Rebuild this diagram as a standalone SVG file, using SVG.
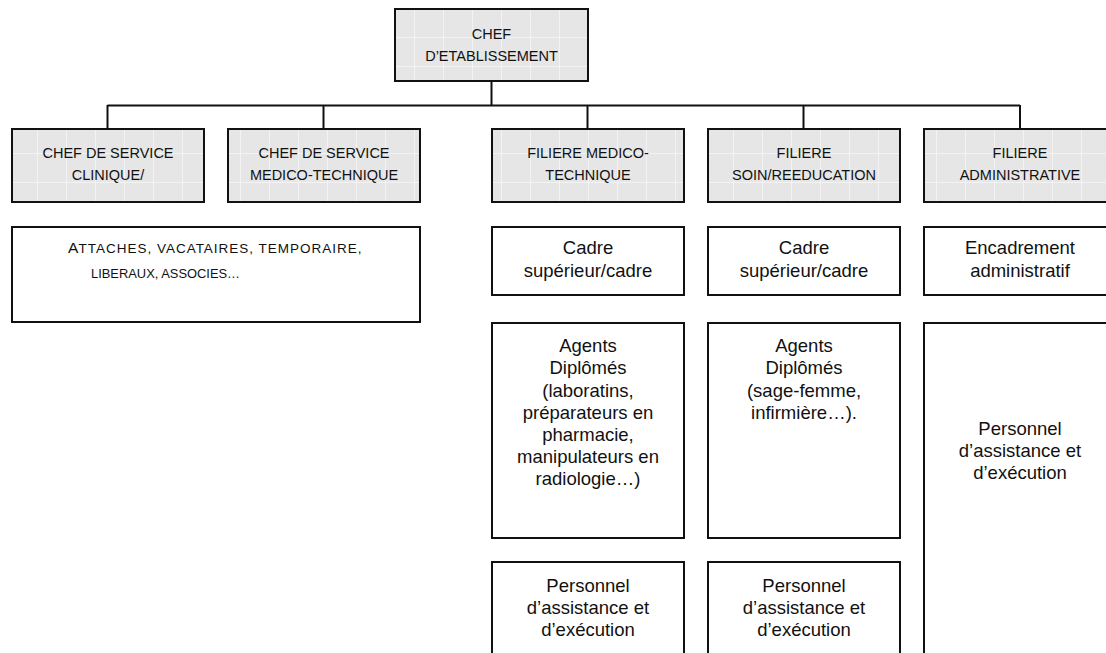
<svg xmlns="http://www.w3.org/2000/svg" width="1106" height="653" viewBox="0 0 1106 653">
<defs>
<pattern id="grid" width="29" height="29" patternUnits="userSpaceOnUse" x="8" y="8">
<rect width="29" height="29" fill="#e6e6e6"/>
<path d="M0 0.5H29M0.5 0V29" stroke="#f3f3f3" stroke-width="1" fill="none"/>
</pattern>
<style>
.box{fill:#ffffff;stroke:#111;stroke-width:2}
.hdr{fill:url(#grid);stroke:#111;stroke-width:2}
.ht{font-family:"Liberation Sans",Arial,sans-serif;font-size:14.5px;fill:#111;text-anchor:middle}
.bt{font-family:"Liberation Sans",Arial,sans-serif;font-size:18.5px;fill:#111;text-anchor:middle}
.sc{font-family:"Liberation Sans",Arial,sans-serif;fill:#111}
.conn{fill:none;stroke:#111;stroke-width:2}
</style>
</defs>
<rect width="1106" height="653" fill="#ffffff"/>
<g id="connectors">
<path class="conn" d="M491.5 81V105.5M107.5 105.5H1020M107.5 105V129M323.5 105V129M587.5 105V129M803.5 105V129M1020 105V129"/>
</g>
<g id="chef-etablissement">
<rect class="hdr" x="395" y="9" width="193" height="72"/>
<text class="ht" x="491.5" y="39">CHEF</text>
<text class="ht" x="491.5" y="61">D’ETABLISSEMENT</text>
</g>
<g id="chef-service-clinique">
<rect class="hdr" x="12" y="129" width="192" height="73"/>
<text class="ht" x="108" y="158">CHEF DE SERVICE</text>
<text class="ht" x="108" y="180">CLINIQUE/</text>
</g>
<g id="chef-service-medico">
<rect class="hdr" x="228" y="129" width="192" height="73"/>
<text class="ht" x="324" y="158">CHEF DE SERVICE</text>
<text class="ht" x="324" y="180">MEDICO-TECHNIQUE</text>
</g>
<g id="filiere-medico">
<rect class="hdr" x="492" y="129" width="192" height="73"/>
<text class="ht" x="588" y="158">FILIERE MEDICO-</text>
<text class="ht" x="588" y="180">TECHNIQUE</text>
</g>
<g id="filiere-soin">
<rect class="hdr" x="708" y="129" width="192" height="73"/>
<text class="ht" x="804" y="158">FILIERE</text>
<text class="ht" x="804" y="180">SOIN/REEDUCATION</text>
</g>
<g id="filiere-admin">
<rect class="hdr" x="924" y="129" width="192" height="73"/>
<text class="ht" x="1020" y="158">FILIERE</text>
<text class="ht" x="1020" y="180">ADMINISTRATIVE</text>
</g>
<g id="attaches">
<rect class="box" x="12" y="227" width="408" height="95"/>
<text class="sc" x="68" y="252.5" font-size="15.5">A</text>
<text class="sc" x="78.5" y="252.5" font-size="13.5" textLength="283" lengthAdjust="spacing">TTACHES, VACATAIRES, TEMPORAIRE,</text>
<text class="sc" x="91" y="278" font-size="13.5" textLength="149" lengthAdjust="spacingAndGlyphs">LIBERAUX, ASSOCIES…</text>
</g>
<g id="cadre-medico">
<rect class="box" x="492" y="227" width="192" height="68"/>
<text class="bt" x="588" y="254">Cadre</text>
<text class="bt" x="588" y="277">supérieur/cadre</text>
</g>
<g id="cadre-soin">
<rect class="box" x="708" y="227" width="192" height="68"/>
<text class="bt" x="804" y="254">Cadre</text>
<text class="bt" x="804" y="277">supérieur/cadre</text>
</g>
<g id="encadrement-admin">
<rect class="box" x="924" y="227" width="192" height="68"/>
<text class="bt" x="1020" y="254">Encadrement</text>
<text class="bt" x="1020" y="277">administratif</text>
</g>
<g id="agents-medico">
<rect class="box" x="492" y="323" width="192" height="215"/>
<text class="bt" x="588" y="352">Agents</text>
<text class="bt" x="588" y="374">Diplômés</text>
<text class="bt" x="588" y="396.5">(laboratins,</text>
<text class="bt" x="588" y="418.5">préparateurs en</text>
<text class="bt" x="588" y="441">pharmacie,</text>
<text class="bt" x="588" y="463">manipulateurs en</text>
<text class="bt" x="588" y="485">radiologie…)</text>
</g>
<g id="agents-soin">
<rect class="box" x="708" y="323" width="192" height="215"/>
<text class="bt" x="804" y="352">Agents</text>
<text class="bt" x="804" y="374">Diplômés</text>
<text class="bt" x="804" y="396.5">(sage-femme,</text>
<text class="bt" x="804" y="418.5">infirmière…).</text>
</g>
<g id="personnel-admin">
<rect class="box" x="924" y="323" width="192" height="345"/>
<text class="bt" x="1020" y="435">Personnel</text>
<text class="bt" x="1020" y="457">d’assistance et</text>
<text class="bt" x="1020" y="479">d’exécution</text>
</g>
<g id="personnel-medico">
<rect class="box" x="492" y="562" width="192" height="106"/>
<text class="bt" x="588" y="591.5">Personnel</text>
<text class="bt" x="588" y="613.5">d’assistance et</text>
<text class="bt" x="588" y="635.5">d’exécution</text>
</g>
<g id="personnel-soin">
<rect class="box" x="708" y="562" width="192" height="106"/>
<text class="bt" x="804" y="591.5">Personnel</text>
<text class="bt" x="804" y="613.5">d’assistance et</text>
<text class="bt" x="804" y="635.5">d’exécution</text>
</g>
</svg>
